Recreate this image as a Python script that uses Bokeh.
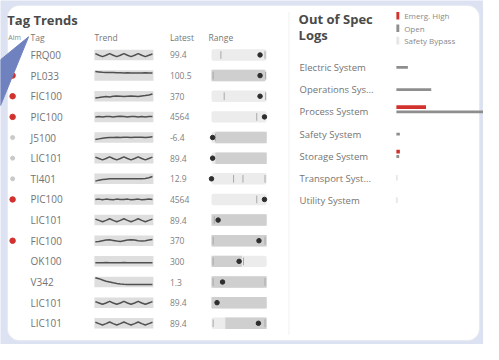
from bokeh.plotting import figure
from bokeh.models import Range1d
from bokeh.embed import file_html
from bokeh.resources import INLINE
from bokeh.core.properties import value
import numpy as np

# ---------------- data ----------------
tags = ["FRQ00", "PL033", "FIC100", "PIC100", "J5100", "LIC101", "TI401",
        "PIC100", "LIC101", "FIC100", "OK100", "V342", "LIC101", "LIC101"]
alarm = ["none", "red", "red", "red", "gray", "gray", "gray",
         "red", "none", "red", "none", "none", "none", "none"]
latest = ["99.4", "100.5", "370", "4564", "-6.4", "89.4", "12.9",
          "4564", "89.4", "370", "300", "1.3", "89.4", "89.4"]
trends = [
    [0.4, -0.1, -0.5, -0.1, 0.4, -0.1, -0.5, -0.1, 0.4, -0.1, -0.5, -0.1, 0.4, -0.1, -0.5, -0.1, 0.3],
    [1.2, 1.1, 1.0, 0.95, 0.9, 0.9, 0.85, 0.85, 0.8, 0.85, 0.8, 0.8, 0.8, 0.8, 0.85, 0.8, 0.8],
    [-0.5, -0.4, -0.2, -0.1, -0.2, 0.0, 0.1, 0.0, -0.1, 0.0, 0.1, 0.0, -0.1, 0.1, 0.2, 0.4, 0.7],
    [0.0, 0.1, 0.0, 0.15, 0.1, 0.0, 0.1, 0.2, 0.1, 0.0, 0.1, 0.1, 0.0, 0.1, 0.0, 0.1, 0.1],
    [-0.6, -0.4, -0.2, -0.1, 0.0, 0.0, 0.1, 0.0, 0.1, 0.1, 0.0, 0.1, 0.1, 0.1, 0.0, 0.1, 0.2],
    [0.3, -0.1, -0.5, -0.1, 0.4, -0.1, -0.5, -0.1, 0.4, -0.1, -0.5, -0.1, 0.4, -0.1, -0.5, -0.1, 0.3],
    [-0.7, -0.4, -0.2, -0.1, 0.0, 0.0, 0.0, 0.0, 0.0, 0.0, 0.0, 0.0, 0.0, 0.0, 0.1, 0.3, 0.7],
    [0.0, 0.1, -0.1, 0.1, 0.0, -0.1, 0.1, 0.0, 0.0, 0.1, -0.1, 0.0, 0.1, -0.1, 0.0, 0.1, 0.0],
    [0.3, -0.1, -0.5, -0.1, 0.4, -0.1, -0.5, -0.1, 0.4, -0.1, -0.5, -0.1, 0.4, -0.1, -0.5, -0.1, 0.3],
    [-0.3, -0.2, 0.0, 0.2, 0.3, 0.1, -0.1, -0.2, 0.0, 0.2, 0.3, 0.2, 0.0, -0.1, 0.0, 0.2, 0.4],
    [-0.4, -0.4, -0.4, -0.35, -0.4, -0.4, -0.4, -0.4, -0.35, -0.4, -0.4, -0.4, -0.4, -0.4, -0.4, -0.4, -0.4],
    [1.3, 1.0, 0.6, 0.25, 0.0, -0.25, -0.45, -0.6, -0.7, -0.75, -0.75, -0.75, -0.75, -0.75, -0.75, -0.75, -0.75],
    [0.3, -0.1, -0.5, -0.1, 0.4, -0.1, -0.5, -0.1, 0.4, -0.1, -0.5, -0.1, 0.4, -0.1, -0.5, -0.1, 0.3],
    [0.3, -0.1, -0.5, -0.1, 0.4, -0.1, -0.5, -0.1, 0.4, -0.1, -0.5, -0.1, 0.4, -0.1, -0.5, -0.1, 0.3],
]
band_lo = [0, 0, 0, 0, 0.07, 0.07, 0, 0, 0, 0, 0, 0, 0, 0.25]
band_hi = [0, 0.97, 0, 0, 1, 1, 0, 0, 1, 1, 0.55, 1, 1, 1]
limit_marks = [[0.17, 0.97], [0.03, 0.98], [0.23, 0.98], [0.82], [0.07], [],
               [0.4, 0.57, 0.97], [0.82], [0.05], [0.03, 0.97], [0.03, 0.58],
               [0.03, 0.97], [], [0.03, 0.97]]
dot_pos = [0.88, 0.88, 0.88, 0.96, 0.02, 0.02, 0.0, 0.96, 0.12, 0.86, 0.5, 0.2, 0.1, 0.85]

systems = ["Electric System", "Operations Sys...", "Process System", "Safety System",
           "Storage System", "Transport Syst...", "Utility System"]
emerg_high = [0, 0, 8.5, 0, 1, 0, 0]
open_logs = [3.3, 10, 26, 1, 0.8, 0, 0]
safety_bypass = [0, 0, 0, 0, 0, 0.3, 0.3]
legend_labels = ["Emerg. High", "Open", "Safety Bypass"]

# ---------------- styling / layout ----------------
FONT = value("Open Sans")
RED = "#d2322d"
GRAY_BAR = "#8e8e8e"
LIGHT_BAR = "#d6d6d6"
TXT = "#737373"
BG = "#dce2f2"

p = figure(width=483, height=344, output_backend="svg", toolbar_location=None,
           x_axis_type=None, y_axis_type=None, min_border=0,
           x_range=Range1d(0, 499), y_range=Range1d(360, 0))
p.grid.visible = False
p.outline_line_color = None
p.background_fill_color = BG
p.border_fill_color = BG

# card
p.quad(left=[7], right=[495], top=[5], bottom=[356], fill_color="white",
       line_color="#e4e7ef", border_radius=12)
p.segment(x0=[298], y0=[12], x1=[298], y1=[350], line_color="#f1f1f1", line_width=1)

def txt(x, y, t, size="10px", color=TXT, style="normal", align="left"):
    p.text(x=x, y=y, text=t, text_font=FONT, text_font_size=size,
           text_color=color, text_font_style=style, text_baseline="middle",
           text_align=align)

# ---- Tag Trends ----
txt([7], [20], ["Tag Trends"], size="13px", color="#4a4a4a", style="bold")
txt([8], [39], ["Alm"], size="7px", color="#888888")
txt([31, 97, 175, 215], [39] * 4, ["Tag", "Trend", "Latest", "Range"],
    size="8.5px", color="#777777")

n = len(tags)
row_y = [57 + 21.6 * i for i in range(n)]

# alarm dots
red_y = [y for y, a in zip(row_y, alarm) if a == "red"]
gray_y = [y for y, a in zip(row_y, alarm) if a == "gray"]
p.scatter(x=[12.5] * len(red_y), y=red_y, size=5.5, color=RED)
p.scatter(x=[12.5] * len(gray_y), y=gray_y, size=4, color="#c9c9c9")

txt([31] * n, row_y, tags, size="10px", color="#747474")
txt([175] * n, row_y, latest, size="8.5px", color="#808080")

# trend sparklines
tx0, tx1 = 97, 158
p.quad(left=[tx0] * n, right=[tx1] * n, top=[y - 5.5 for y in row_y],
       bottom=[y + 5.5 for y in row_y], fill_color="#dedede", line_color=None)
xs, ys = [], []
for y, tr in zip(row_y, trends):
    xx = np.linspace(tx0 + 1, tx1 - 1, len(tr))
    xs.append(list(xx))
    ys.append([y - v * 3.5 for v in tr])
p.multi_line(xs=xs, ys=ys, line_color="#505050", line_width=1.5, line_join="round")

# range boxes
rx0, rx1 = 218, 275
rw = rx1 - rx0
p.quad(left=[rx0] * n, right=[rx1] * n, top=[y - 6 for y in row_y],
       bottom=[y + 6 for y in row_y], fill_color="#ececec", line_color=None,
       border_radius=2)
bl, br, bt, bb = [], [], [], []
for y, lo, hi in zip(row_y, band_lo, band_hi):
    if hi > lo:
        bl.append(rx0 + lo * rw); br.append(rx0 + hi * rw)
        bt.append(y - 6); bb.append(y + 6)
p.quad(left=bl, right=br, top=bt, bottom=bb, fill_color="#cfcfcf", line_color=None)
sx0, sy0, sx1, sy1 = [], [], [], []
for y, marks in zip(row_y, limit_marks):
    for m in marks:
        sx0.append(rx0 + m * rw); sx1.append(rx0 + m * rw)
        sy0.append(y - 4); sy1.append(y + 4)
p.segment(x0=sx0, y0=sy0, x1=sx1, y1=sy1, line_color="#a8a8a8", line_width=1)
p.scatter(x=[rx0 + d * rw for d in dot_pos], y=row_y, size=4.5, color="#2e2e2e")

# polygon pointer
p.patch(x=[0, 29, 0], y=[62, 38, 110], fill_color="#6f82bf", line_color="#6f82bf")

# ---- Out of Spec Logs ----
txt([308, 308], [19, 36], ["Out of Spec", "Logs"], size="13px",
    color="#4a4a4a", style="bold")
leg_y = [16, 29, 42]
p.quad(left=[409] * 3, right=[412] * 3, top=[y - 4 for y in leg_y],
       bottom=[y + 4 for y in leg_y], fill_color=[RED, GRAY_BAR, "#e6e6e6"],
       line_color=None)
txt([417] * 3, leg_y, legend_labels, size="8px", color="#8a8a8a")

m = len(systems)
sys_y = [70 + 23.3 * i for i in range(m)]
txt([309] * m, sys_y, systems, size="9.5px", color="#747474")
bx0 = 409
scale = 3.6
p.hbar(y=[y - 5 for y in sys_y], left=bx0, right=[bx0 + v * scale for v in emerg_high],
       height=4, fill_color=RED, line_color=None)
p.hbar(y=sys_y, left=bx0, right=[bx0 + v * scale for v in open_logs],
       height=3, fill_color=GRAY_BAR, line_color=None)
p.hbar(y=[y - 1 for y in sys_y], left=bx0, right=[bx0 + v * scale for v in safety_bypass],
       height=6, fill_color=LIGHT_BAR, line_color=None)

open("out.html", "w").write(file_html(p, INLINE))
